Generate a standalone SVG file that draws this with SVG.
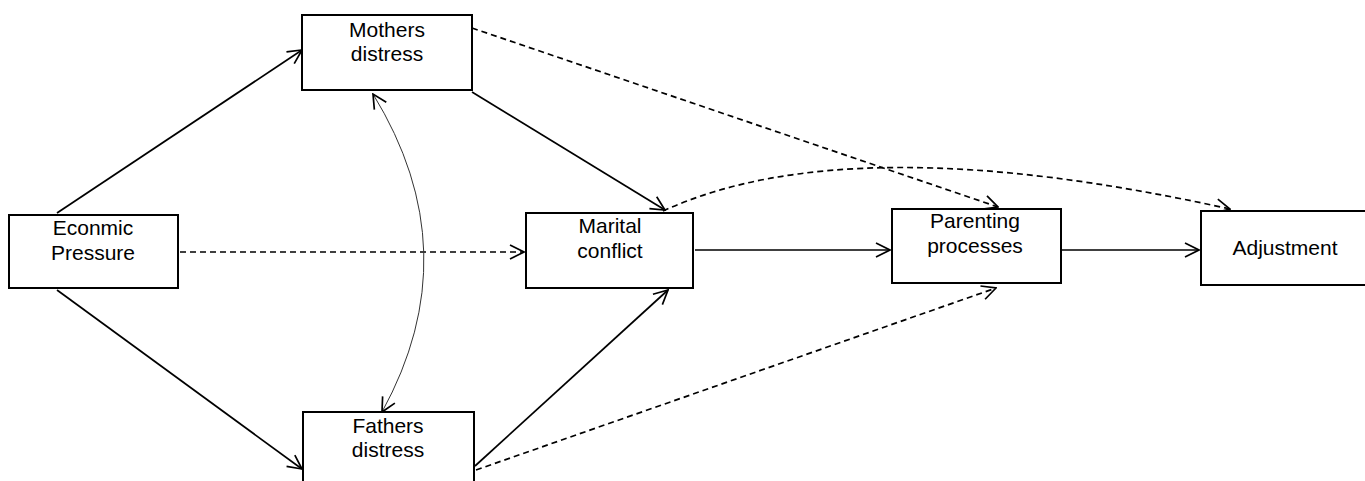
<svg xmlns="http://www.w3.org/2000/svg" width="1365" height="481" viewBox="0 0 1365 481">
<style>
.box{fill:#fff;stroke:#000;stroke-width:2}
.t{font-family:"Liberation Sans",Arial,sans-serif;font-size:21px;fill:#000;text-anchor:middle}
.s{fill:none;stroke:#000;stroke-width:1.7}
.d{fill:none;stroke:#000;stroke-width:1.7;stroke-dasharray:6,4}
.c{fill:none;stroke:#333;stroke-width:1}
</style>
<defs>
<marker id="a" viewBox="0 0 16 16" refX="15" refY="8" markerWidth="16" markerHeight="16" markerUnits="userSpaceOnUse" orient="auto-start-reverse">
<path d="M1,1 L15,8 L1,15" fill="none" stroke="#000" stroke-width="1.7"/>
</marker>
</defs>
<g id="connectors">
<line class="s" x1="57" y1="213" x2="302" y2="50" marker-end="url(#a)"/>
<line class="s" x1="57" y1="290" x2="302" y2="469" marker-end="url(#a)"/>
<line class="d" x1="180" y1="252" x2="524" y2="252" marker-end="url(#a)"/>
<line class="s" x1="472" y1="92" x2="665" y2="210" marker-end="url(#a)"/>
<line class="s" x1="475" y1="466" x2="668" y2="290" marker-end="url(#a)"/>
<line class="s" x1="695" y1="250" x2="890" y2="250" marker-end="url(#a)"/>
<line class="s" x1="1061" y1="250" x2="1199" y2="250" marker-end="url(#a)"/>
<line class="d" x1="472" y1="28" x2="998" y2="207" marker-end="url(#a)"/>
<path class="d" d="M663,211 Q850,125 1230,209" marker-end="url(#a)"/>
<line class="d" x1="476" y1="470" x2="996" y2="288" marker-end="url(#a)"/>
<path class="c" d="M373,94 Q470,252 382,412" marker-start="url(#a)" marker-end="url(#a)"/>
</g>
<g id="econ"><rect class="box" x="9" y="215" width="169" height="73"/><text class="t" x="93" y="235">Econmic</text><text class="t" x="93" y="260">Pressure</text></g>
<g id="mothers"><rect class="box" x="302" y="15" width="170" height="75"/><text class="t" x="387" y="37">Mothers</text><text class="t" x="387" y="61">distress</text></g>
<g id="fathers"><rect class="box" x="303" y="412" width="171" height="80"/><text class="t" x="388" y="433">Fathers</text><text class="t" x="388" y="457">distress</text></g>
<g id="marital"><rect class="box" x="526" y="213" width="167" height="75"/><text class="t" x="610" y="233">Marital</text><text class="t" x="610" y="258">conflict</text></g>
<g id="parenting"><rect class="box" x="892" y="209" width="169" height="74"/><text class="t" x="975" y="228">Parenting</text><text class="t" x="975" y="253">processes</text></g>
<g id="adjustment"><rect class="box" x="1201" y="211" width="170" height="74"/><text class="t" x="1285" y="255">Adjustment</text></g>
</svg>
